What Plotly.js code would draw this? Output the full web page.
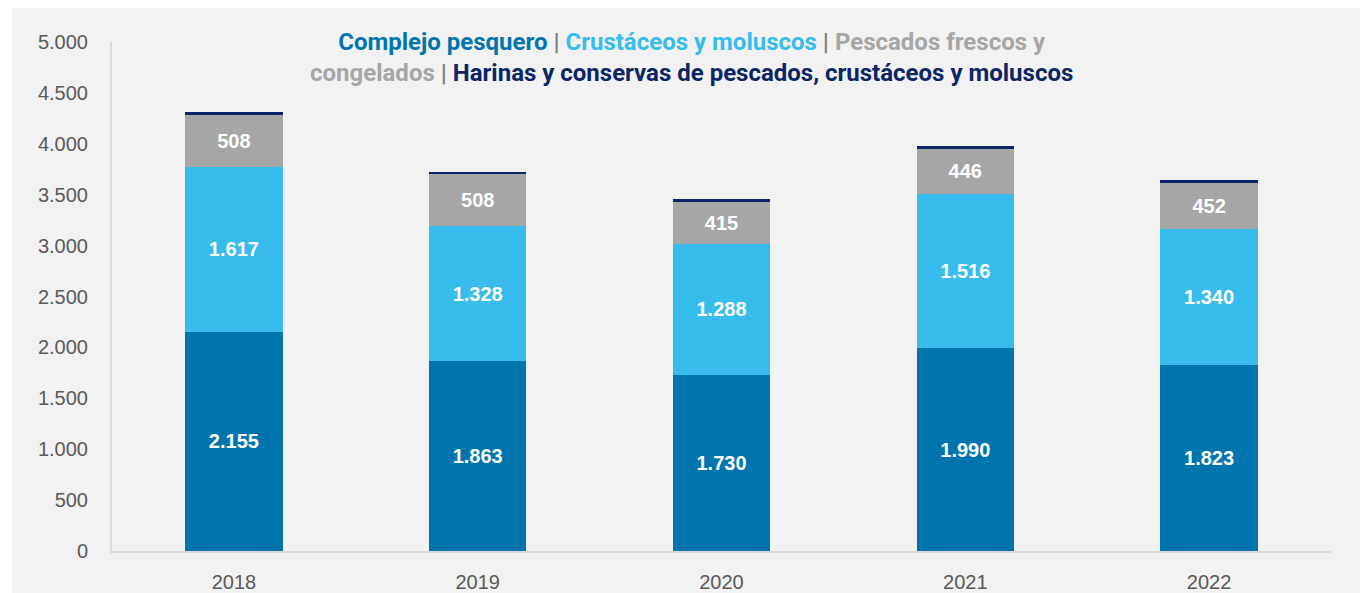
<!DOCTYPE html>
<html>
<head>
<meta charset="utf-8">
<script src="https://cdn.plot.ly/plotly-3.0.1.min.js"></script>
<style>
html,body{margin:0;padding:0;background:#ffffff;}
#chart{position:absolute;left:12px;top:8px;width:1348px;height:585px;}
</style>
</head>
<body>
<div id="chart"></div>
<script>
const years = ["2018","2019","2020","2021","2022"];
const complejoPesquero = [2155, 1863, 1730, 1990, 1823];
const crustaceosMoluscos = [1617, 1328, 1288, 1516, 1340];
const pescadosFrescos = [508, 508, 415, 446, 452];
const harinasConservas = [30, 27, 26, 28, 27];
const yTicks = [0, 500, 1000, 1500, 2000, 2500, 3000, 3500, 4000, 4500, 5000];

const colors = {
  complejo: "#0075AD",
  crust: "#38BCEC",
  pescados: "#A6A6A6",
  harinas: "#0B2566"
};

const labelFont = {family: "Liberation Sans, Arial, sans-serif", size: 20, color: "#ffffff", weight: "bold"};

function barTrace(name, vals, color, showText) {
  return {
    type: "bar",
    name: name,
    x: years,
    y: vals,
    width: 0.4,
    marker: {color: color, line: {width: 0}},
    text: showText ? vals : undefined,
    texttemplate: showText ? "<b>%{y:,.0f}</b>" : undefined,
    textposition: showText ? "inside" : "none",
    insidetextanchor: "middle",
    textfont: labelFont,
    constraintext: "none",
    hoverinfo: "x+y+name"
  };
}

const data = [
  barTrace("Complejo pesquero", complejoPesquero, colors.complejo, true),
  barTrace("Crustáceos y moluscos", crustaceosMoluscos, colors.crust, true),
  barTrace("Pescados frescos y congelados", pescadosFrescos, colors.pescados, true),
  barTrace("Harinas y conservas de pescados, crustáceos y moluscos", harinasConservas, colors.harinas, false)
];

const sep = '<span style="color:#7F7F7F"> | </span>';
const titleText =
  '<span style="color:' + colors.complejo + '">Complejo pesquero</span>' + sep +
  '<span style="color:' + colors.crust + '">Crustáceos y moluscos</span>' + sep +
  '<span style="color:' + colors.pescados + '">Pescados frescos y</span><br>' +
  '<span style="color:' + colors.pescados + '">congelados</span>' + sep +
  '<span style="color:' + colors.harinas + '">Harinas y conservas de pescados, crustáceos y moluscos</span>';

const layout = {
  width: 1348,
  height: 585,
  barmode: "stack",
  separators: ",.",
  showlegend: false,
  paper_bgcolor: "#F2F2F2",
  plot_bgcolor: "#F2F2F2",
  margin: {l: 100, r: 29, t: 34, b: 42, pad: 0},
  font: {family: "Liberation Sans, Arial, sans-serif", color: "#595959", size: 20},
  xaxis: {
    type: "category",
    showline: true,
    linecolor: "#D9D9D9",
    linewidth: 2,
    ticks: "",
    showgrid: false,
    zeroline: false,
    ticklabelstandoff: 12,
    tickfont: {size: 20, color: "#595959"}
  },
  yaxis: {
    range: [0, 5000],
    tickvals: yTicks,
    tickformat: ",.0f",
    showline: true,
    linecolor: "#D9D9D9",
    linewidth: 2,
    ticks: "",
    showgrid: false,
    zeroline: false,
    ticklabelstandoff: 18,
    tickfont: {size: 20, color: "#595959"}
  },
  annotations: [{
    xref: "paper", yref: "paper",
    x: (691 - 112) / 1219, y: 1.0,
    xanchor: "center", yanchor: "middle",
    yshift: -15,
    align: "center",
    showarrow: false,
    text: '<b>' + titleText + '</b>',
    font: {family: "Roboto, sans-serif", size: 24}
  }]
};

Plotly.newPlot("chart", data, layout, {displayModeBar: false, staticPlot: true});
</script>
</body>
</html>
